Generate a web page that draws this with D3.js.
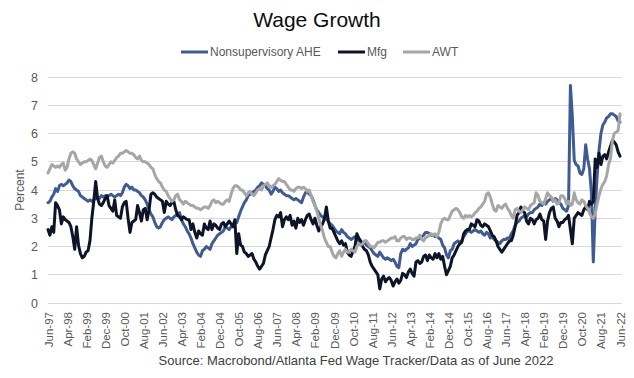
<!DOCTYPE html>
<html><head><meta charset="utf-8">
<script src="https://cdn.jsdelivr.net/npm/d3@7"></script>
<style>body{margin:0;background:#fff;} svg text{font-family:"Liberation Sans",Arial,sans-serif;}</style>
</head><body><svg id="c" width="634" height="378"></svg>
<script>
const xTickLabels = ["Jun-97","Apr-98","Feb-99","Dec-99","Oct-00","Aug-01","Jun-02","Apr-03","Feb-04","Dec-04","Oct-05","Aug-06","Jun-07","Apr-08","Feb-09","Dec-09","Oct-10","Aug-11","Jun-12","Apr-13","Feb-14","Dec-14","Oct-15","Aug-16","Jun-17","Apr-18","Feb-19","Dec-19","Oct-20","Aug-21","Jun-22"];
const yTicks = [0,1,2,3,4,5,6,7,8];
const seriesNames = ["Nonsupervisory AHE","Mfg","AWT"];
// monthly, Jun-1997 .. Jun-2022
const ahe = [
3.55,3.6,3.75,3.85,4.05,3.95,4.15,4.2,4.15,4.2,
4.25,4.35,4.3,4.15,4.05,4.0,3.95,3.8,3.75,3.7,
3.65,3.6,3.65,3.6,3.65,3.7,3.75,3.7,3.8,3.75,
3.8,3.75,3.8,3.85,3.8,3.75,3.8,3.85,3.8,3.9,
4.1,4.2,4.15,4.05,4.1,4.0,4.0,3.95,3.9,3.8,
3.75,3.65,3.5,3.3,3.15,3.05,2.85,2.7,2.65,2.7,
2.85,2.95,3.0,3.05,3.0,2.95,3.05,3.1,3.15,3.2,
2.95,2.8,2.7,2.55,2.45,2.3,2.1,1.95,1.8,1.7,
1.65,1.85,1.9,2.0,1.95,1.9,2.1,2.2,2.3,2.4,
2.45,2.5,2.55,2.7,2.65,2.6,2.7,2.7,2.8,2.85,
3.05,3.25,3.4,3.55,3.65,3.8,3.85,3.9,3.95,4.0,
4.1,4.15,4.25,4.2,4.15,4.05,4.0,3.85,3.95,4.1,
4.05,3.95,4.0,3.9,3.85,3.8,3.8,3.75,3.7,3.65,
3.7,3.65,3.6,3.55,3.75,3.9,3.95,3.85,3.8,3.65,
3.45,3.3,3.2,3.1,3.05,3.0,2.95,2.9,2.8,2.75,
2.65,2.55,2.5,2.45,2.6,2.5,2.45,2.35,2.3,2.25,
2.3,2.35,2.25,2.2,2.1,2.15,2.15,2.05,2.0,1.95,
1.85,1.75,1.7,1.65,1.8,1.7,1.6,1.55,1.6,1.55,
1.5,1.55,1.45,1.3,1.25,1.75,1.9,1.85,1.9,1.95,
2.1,2.0,2.05,2.1,2.25,2.3,2.35,2.4,2.5,2.5,
2.45,2.4,2.4,2.35,2.35,2.3,2.25,2.05,1.95,1.7,
1.6,1.85,1.9,2.1,2.15,2.2,2.15,2.2,2.35,2.45,
2.55,2.55,2.5,2.55,2.6,2.55,2.5,2.55,2.45,2.4,
2.5,2.45,2.3,2.35,2.25,2.2,2.15,2.1,2.2,2.25,
2.25,2.3,2.3,2.45,2.55,2.75,2.85,2.9,3.0,3.05,
3.1,3.05,3.15,3.2,3.2,3.3,3.35,3.4,3.5,3.45,
3.55,3.5,3.6,3.65,3.7,3.6,3.7,3.65,3.55,3.5,
3.35,3.3,3.25,3.45,7.7,6.6,5.05,4.9,4.85,4.6,
4.55,4.75,5.6,5.1,4.75,3.9,1.45,3.3,4.5,5.4,
6.0,6.3,6.4,6.55,6.6,6.7,6.7,6.65,6.6,6.45,
6.4];
const mfg = [
2.6,2.4,2.7,2.5,3.55,3.45,3.3,2.8,3.05,2.95,
2.9,2.85,2.7,2.35,1.9,2.7,2.05,1.75,1.6,1.65,
1.8,1.85,2.2,3.0,3.6,4.3,3.7,3.5,3.45,3.55,
3.7,3.8,3.45,3.35,3.25,3.65,3.1,3.05,3.0,3.4,
3.55,3.6,3.0,2.5,2.85,2.9,2.95,3.45,3.2,2.9,
3.3,3.35,2.95,3.3,3.85,3.9,3.85,3.75,3.7,3.65,
3.6,3.2,3.6,3.5,3.45,3.55,3.6,3.3,3.1,3.05,
2.95,3.05,3.0,2.95,2.95,2.6,2.8,2.5,2.3,2.55,
2.45,2.4,2.8,2.65,2.6,2.9,2.6,2.8,2.75,2.65,
2.6,2.8,2.85,2.7,2.8,2.9,2.8,2.7,2.95,1.75,
2.45,2.05,2.0,1.8,1.75,1.65,1.7,1.75,1.55,1.45,
1.3,1.2,1.3,1.4,1.7,1.85,2.0,2.3,2.6,2.95,
3.1,3.05,3.2,2.7,2.95,3.05,2.95,3.1,2.75,2.9,
2.65,3.0,2.85,2.95,2.75,2.95,3.1,3.15,2.95,2.8,
3.0,2.75,2.55,2.7,2.8,3.0,3.4,2.9,2.65,2.65,
2.5,2.35,2.2,2.1,2.2,2.05,2.1,1.8,1.7,1.65,
1.85,2.0,2.45,2.3,2.2,2.0,1.9,1.85,1.7,1.45,
1.3,1.2,1.1,1.0,0.5,0.85,0.95,0.75,0.85,0.9,
0.8,0.6,0.75,0.85,0.7,0.8,1.05,1.0,0.9,1.1,
1.2,1.05,0.95,1.45,1.5,1.4,1.45,1.65,1.7,1.5,
1.7,1.6,1.55,1.75,1.6,1.75,1.55,1.65,1.3,1.0,
1.15,1.3,1.6,1.7,1.85,2.0,2.1,2.15,2.45,2.55,
2.6,2.6,2.8,2.75,2.7,2.95,2.9,2.75,2.7,2.8,
2.75,2.7,2.55,2.4,2.35,2.2,2.0,1.9,1.8,1.9,
2.0,2.1,2.2,2.2,2.4,2.7,3.1,3.2,3.4,3.25,
3.2,2.9,2.8,3.0,2.95,2.8,2.95,3.0,3.15,2.95,
2.9,2.25,2.9,3.2,3.35,3.4,3.0,2.9,2.7,2.85,
2.85,2.95,3.0,3.1,2.6,2.1,3.0,3.1,3.2,3.15,
3.1,3.3,3.4,3.3,3.6,3.5,3.6,5.1,4.8,5.3,
4.9,5.2,5.25,5.1,5.35,5.55,5.75,5.7,5.6,5.35,
5.2];
const awt = [
4.6,4.75,4.9,4.85,4.8,4.85,4.8,4.9,4.95,4.7,
4.8,5.1,5.3,5.35,5.3,5.1,5.0,4.9,4.95,5.0,
5.0,5.05,5.1,5.05,4.9,4.75,4.95,5.15,5.2,5.0,
4.85,4.8,4.9,5.0,4.95,5.05,5.15,5.2,5.3,5.3,
5.35,5.4,5.35,5.3,5.3,5.25,5.15,5.1,5.2,5.05,
5.0,5.0,4.95,4.9,4.8,4.75,4.55,4.4,4.3,4.25,
4.1,4.0,3.95,3.8,3.7,3.6,3.65,3.8,3.85,3.65,
3.6,3.5,3.6,3.55,3.5,3.45,3.45,3.4,3.35,3.35,
3.3,3.35,3.4,3.4,3.35,3.45,3.6,3.65,3.55,3.6,
3.55,3.5,3.5,3.6,3.65,3.6,3.85,4.05,4.15,4.15,
4.1,4.0,4.0,3.9,3.8,3.9,3.95,3.85,3.8,3.9,
4.0,4.05,4.0,4.15,4.2,4.25,4.15,4.1,4.15,4.2,
4.3,4.4,4.35,4.3,4.3,4.2,4.1,4.0,4.0,3.95,
4.05,4.1,4.1,4.05,4.1,4.05,3.95,4.0,3.8,3.6,
3.45,3.25,3.0,2.75,2.55,2.3,2.15,2.0,2.0,1.8,
1.65,1.6,1.75,1.85,1.65,1.8,1.9,1.8,1.8,1.9,
1.85,1.8,2.0,2.1,2.05,2.1,2.2,2.2,2.1,2.0,
2.0,1.95,2.05,2.15,2.15,2.2,2.2,2.15,2.2,2.25,
2.3,2.3,2.35,2.2,2.2,2.3,2.35,2.35,2.25,2.3,
2.3,2.25,2.25,2.3,2.3,2.4,2.25,2.2,2.3,2.35,
2.4,2.45,2.4,2.45,2.35,2.5,2.8,2.95,3.0,2.95,
2.95,3.1,3.25,3.3,3.35,3.3,3.2,3.05,3.0,3.1,
3.05,3.1,3.05,3.1,3.2,3.25,3.35,3.4,3.5,3.6,
3.85,3.9,3.75,3.5,3.3,3.25,3.45,3.4,3.35,3.45,
3.5,3.35,3.25,3.1,3.0,3.3,3.35,3.25,3.2,3.3,
3.4,3.35,3.3,3.45,3.5,3.55,3.9,3.8,3.6,3.55,
3.5,3.7,3.9,3.8,3.75,3.6,3.65,3.5,3.55,3.8,
3.8,3.7,3.5,3.6,3.45,3.5,3.9,3.65,3.55,3.5,
3.65,3.6,3.45,3.35,3.2,3.05,3.0,3.15,3.5,3.8,
4.05,4.2,4.3,4.5,4.9,5.1,5.75,6.0,6.05,6.1,
6.7];
const colors = ["#3E5B93","#0E1428","#A6A6A6"];

const svg = d3.select("#c");
const m = {left:48, right:620, top:77, bottom:303};
const n = ahe.length;
const x = d3.scaleLinear().domain([0, n-1]).range([m.left, m.right]);
const y = d3.scaleLinear().domain([0, 8]).range([m.bottom, m.top]);

// gridlines
svg.append("g").selectAll("line").data(yTicks).join("line")
  .attr("x1", 48).attr("x2", 622)
  .attr("y1", d => y(d)).attr("y2", d => y(d))
  .attr("stroke", "#D9D9D9").attr("stroke-width", 1).attr("shape-rendering","crispEdges");

// y axis
const yAxis = svg.append("g").attr("transform", "translate(38,0)")
  .call(d3.axisLeft(y).tickValues(yTicks).tickSize(0).tickPadding(0).tickFormat(d3.format("d")));
yAxis.select(".domain").remove();
yAxis.selectAll("text").attr("fill", "#595959").attr("font-size", "12.5px").attr("font-family", "Liberation Sans, Arial, sans-serif");

// x axis
const xTickIdx = xTickLabels.map((d, i) => i * 10);
const xAxis = svg.append("g").attr("transform", `translate(0,${m.bottom})`)
  .call(d3.axisBottom(x).tickValues(xTickIdx).tickSize(0).tickFormat((d, i) => xTickLabels[i]));
xAxis.select(".domain").remove();
xAxis.selectAll("text")
  .attr("fill", "#595959").attr("font-size", "11.5px").attr("font-family", "Liberation Sans, Arial, sans-serif")
  .attr("transform", "rotate(-90)").attr("text-anchor", "end")
  .attr("x", -9).attr("y", 0).attr("dy", "0.35em");

// y label
svg.append("text").attr("transform", "translate(24,190) rotate(-90)")
  .attr("text-anchor", "middle").attr("fill", "#595959").attr("font-size", "12px").text("Percent");

// lines
const line = d3.line().x((d, i) => x(i)).y(d => y(d)).curve(d3.curveLinear);
[ahe, mfg, awt].forEach((s, k) => {
  svg.append("path").datum(s).attr("d", line)
    .attr("fill", "none").attr("stroke", colors[k]).attr("stroke-width", 3)
    .attr("stroke-linejoin", "round").attr("stroke-linecap", "round");
});

// title
svg.append("text").attr("x", 317).attr("y", 27).attr("text-anchor", "middle")
  .attr("fill", "#0D0D0D").attr("font-size", "21px").text("Wage Growth");

// legend
const legX = [181, 338, 403];
const lg = svg.append("g");
seriesNames.forEach((name, k) => {
  lg.append("line").attr("x1", legX[k]).attr("x2", legX[k] + 27).attr("y1", 52).attr("y2", 52)
    .attr("stroke", colors[k]).attr("stroke-width", 3);
  lg.append("text").attr("x", legX[k] + 29).attr("y", 56).attr("fill", "#595959")
    .attr("font-size", "12px").text(name);
});

// source
svg.append("text").attr("x", 356).attr("y", 365).attr("text-anchor", "middle")
  .attr("fill", "#404040").attr("font-size", "13px")
  .text("Source: Macrobond/Atlanta Fed Wage Tracker/Data as of June 2022");
</script></body></html>
